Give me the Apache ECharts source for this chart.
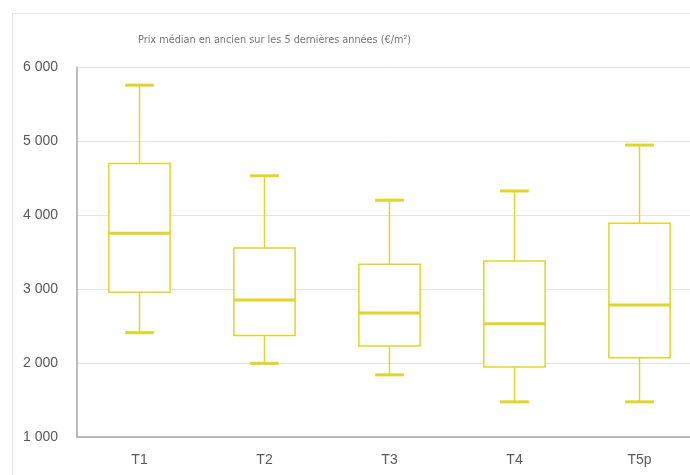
<!DOCTYPE html>
<html>
<head>
<meta charset="utf-8">
<script src="https://cdn.jsdelivr.net/npm/echarts@6/dist/echarts.min.js"></script>
<style>
    html, body { margin: 0; padding: 0; background: #fff; overflow: hidden; }
    /* le graphique d'origine est rogné à droite : le conteneur déborde de la fenêtre */
    #chart { width: 720px; height: 475px; }
</style>
</head>
<body>
<div id="chart"></div>
<script>
// catégories et quartiles (min, Q1, médiane, Q3, max) en €/m²
const categories = ['T1', 'T2', 'T3', 'T4', 'T5p'];
const minValues = [2410, 1995, 1840, 1475, 1475];
const q1Values = [2955, 2370, 2230, 1945, 2070];
const medianValues = [3755, 2850, 2675, 2530, 2785];
const q3Values = [4695, 3555, 3335, 3380, 3890];
const maxValues = [5755, 4530, 4200, 4325, 4945];

const yellow = '#e2d42a';

const boxData = categories.map((c, i) => [i, minValues[i], q1Values[i], medianValues[i], q3Values[i], maxValues[i]]);

// dessine une boîte avec médiane et moustaches épaisses
const renderBox = (params, api) => {
    const x = api.value(0);
    const pMin = api.coord([x, api.value(1)]);
    const pQ1 = api.coord([x, api.value(2)]);
    const pMed = api.coord([x, api.value(3)]);
    const pQ3 = api.coord([x, api.value(4)]);
    const pMax = api.coord([x, api.value(5)]);
    const band = api.size([1, 0])[0];
    const boxW = band * 0.49;
    const capW = band * 0.23;
    const cx = pMed[0];
    const thin = { stroke: yellow, lineWidth: 1.5, fill: null };
    const thick = { stroke: yellow, lineWidth: 3, fill: null };
    return {
        type: 'group',
        children: [
            { type: 'line', shape: { x1: cx, y1: pMax[1], x2: cx, y2: pQ3[1] }, style: thin },
            { type: 'line', shape: { x1: cx, y1: pQ1[1], x2: cx, y2: pMin[1] }, style: thin },
            { type: 'line', shape: { x1: cx - capW / 2, y1: pMax[1], x2: cx + capW / 2, y2: pMax[1] }, style: thick },
            { type: 'line', shape: { x1: cx - capW / 2, y1: pMin[1], x2: cx + capW / 2, y2: pMin[1] }, style: thick },
            { type: 'rect', shape: { x: cx - boxW / 2, y: pQ3[1], width: boxW, height: pQ1[1] - pQ3[1] }, style: { stroke: yellow, lineWidth: 1.5, fill: '#fff' } },
            { type: 'line', shape: { x1: cx - boxW / 2, y1: pMed[1], x2: cx + boxW / 2, y2: pMed[1] }, style: thick }
        ]
    };
};

const chart = echarts.init(document.getElementById('chart'));
chart.setOption({
    backgroundColor: '#fff',
    animation: false,
    title: {
        text: 'Prix médian en ancien sur les 5 dernières années (€/m²)',
        left: 133,
        top: 30,
        textStyle: {
            fontFamily: 'DejaVu Sans Condensed',
            fontSize: 10.8,
            fontWeight: 'normal',
            color: '#767676'
        }
    },
    graphic: [{
        type: 'rect',
        shape: { x: 12.5, y: 13.5, width: 720, height: 480 },
        style: { fill: null, stroke: '#e6e6e6', lineWidth: 1 },
        silent: true,
        z: -1
    }],
    grid: { left: 77, right: 18, top: 67, bottom: 38 },
    xAxis: {
        type: 'category',
        data: categories,
        axisLine: { lineStyle: { color: '#a6a6a6', width: 1.5 } },
        axisTick: { show: false },
        axisLabel: { color: '#595959', fontSize: 14, fontFamily: 'Liberation Sans', margin: 16 },
        splitLine: { show: false }
    },
    yAxis: {
        type: 'value',
        min: 1000,
        max: 6000,
        interval: 1000,
        axisLine: { show: true, lineStyle: { color: '#a6a6a6', width: 1.5 } },
        axisTick: { show: false },
        axisLabel: {
            color: '#595959',
            fontSize: 14,
            fontFamily: 'Liberation Sans',
            margin: 19,
            formatter: v => String(v).replace(/\B(?=(\d{3})+(?!\d))/g, ' ')
        },
        splitLine: { lineStyle: { color: '#e3e3e3', width: 1 } }
    },
    series: [{
        type: 'custom',
        renderItem: renderBox,
        encode: { x: 0, y: [1, 2, 3, 4, 5] },
        data: boxData,
        clip: false
    }]
});
</script>
</body>
</html>
